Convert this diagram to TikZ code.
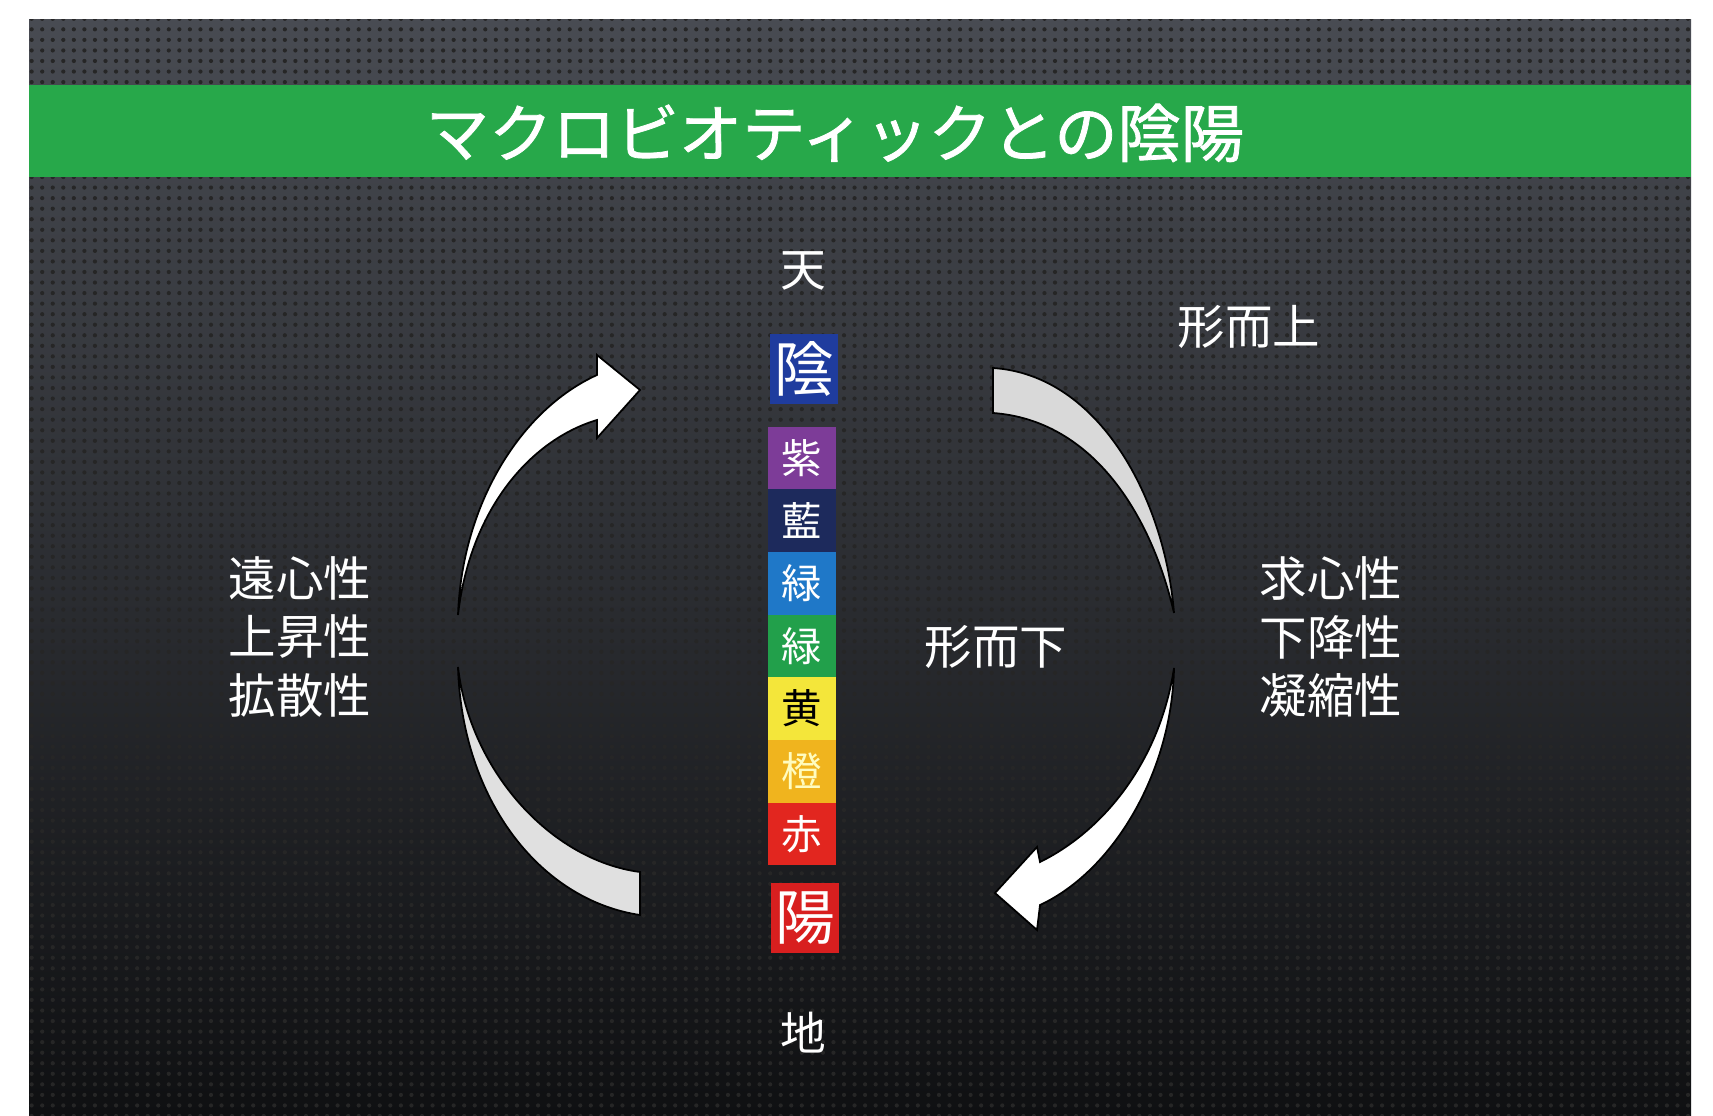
\documentclass[tikz,border=0pt]{standalone}
\usepackage{fontspec}
\newfontfamily\jpfont{Noto Sans CJK JP}
\newfontfamily\jptitle[FakeBold=1.2]{Noto Sans CJK JP}
\usetikzlibrary{positioning,calc,patterns.meta}

\definecolor{bgtop}{HTML}{484B52}
\definecolor{bgbot}{HTML}{0F1012}
\definecolor{bandgreen}{HTML}{27A84A}
\definecolor{yinblue}{HTML}{1F3C9E}
\definecolor{yangred}{HTML}{D81F1F}
\definecolor{cpurple}{HTML}{7D3C98}
\definecolor{cindigo}{HTML}{1D2A5C}
\definecolor{cblue}{HTML}{1F78C8}
\definecolor{cgreen}{HTML}{22A04B}
\definecolor{cyellow}{HTML}{F4E63A}
\definecolor{corange}{HTML}{F0B41E}
\definecolor{cred}{HTML}{E2261F}

\begin{document}
\begin{tikzpicture}[
        x=0.01cm, y=-0.01cm,
        words/.style={text=white, align=center, inner sep=0pt, font=\jpfont\fontsize{13.5}{16.5}\selectfont},
        pole/.style={text=white, inner sep=0pt, font=\jpfont\fontsize{13}{13}\selectfont},
        yinyang/.style={text=white, inner sep=0pt, minimum width=0.68cm, minimum height=0.70cm, font=\jpfont\fontsize{17}{17}\selectfont},
        band/.style={text=white, inner sep=0pt, outer sep=0pt, minimum width=0.68cm, minimum height=0.626cm, font=\jpfont\fontsize{11.5}{11.5}\selectfont},
        piece/.style={draw=black, line width=0.5pt}
    ]
        \useasboundingbox (0,0) rectangle (1713,1116);

        % Background
        \shade[top color=bgtop, bottom color=bgbot] (29,20) rectangle (1691,1116);
        \fill[pattern={Dots[distance=3pt, radius=0.6pt]}, pattern color=black!85] (29,20) rectangle (1691,1116);
        \fill[bandgreen] (29,85) rectangle (1691,177);
        \node (title) at (835,133) [text=white, font=\jptitle\fontsize{18}{18}\selectfont] {マクロビオティックとの陰陽};

        % Column
        \node (ten) at (803,271) [pole] {天};
        \node (yin) at (804,369) [yinyang, fill=yinblue] {陰};
        \node (murasaki) at (802,458) [band, fill=cpurple] {紫};
        \node (ai) [below=0pt of murasaki, band, fill=cindigo] {藍};
        \node (aoi) [below=0pt of ai, band, fill=cblue] {緑};
        \node (midori) [below=0pt of aoi, band, fill=cgreen] {緑};
        \node (ki) [below=0pt of midori, band, fill=cyellow, text=black] {黄};
        \node (daidai) [below=0pt of ki, band, fill=corange, text=yellow!25] {橙};
        \node (aka) [below=0pt of daidai, band, fill=cred] {赤};
        \node (yang) at (805,918) [yinyang, fill=yangred] {陽};
        \node (chi) at (803,1033) [pole] {地};

        % Labels
        \node (enshin) at (300,637) [words] {遠心性\\上昇性\\拡散性};
        \node (kyushin) at (1331,637) [words] {求心性\\下降性\\凝縮性};
        \node (keijijo) at (1249,327) [words] {形而上};
        \node (keijika) at (996,647) [words] {形而下};

        % Left arrow
        \fill[piece, fill=white] (458,615) .. controls (462,505) and (520,410) .. (597,375)
            -- (597,355) -- (640,390) -- (597,438) -- (597,420)
            .. controls (530,440) and (470,510) .. (458,615) -- cycle;
        \fill[piece, fill=black!12] (458,667) .. controls (462,800) and (540,900) .. (640,915)
            -- (640,872) .. controls (550,860) and (470,770) .. (458,667) -- cycle;

        % Right arrow
        \fill[piece, fill=black!15] (993,368) .. controls (1100,375) and (1165,500) .. (1174,613)
            .. controls (1150,510) and (1090,420) .. (993,413) -- cycle;
        \fill[piece, fill=white] (1174,668) .. controls (1172,770) and (1115,870) .. (1040,905)
            -- (1037,930) -- (995,893) -- (1037,847) -- (1040,862)
            .. controls (1105,830) and (1160,760) .. (1174,668) -- cycle;
    \end{tikzpicture}
\end{document}
